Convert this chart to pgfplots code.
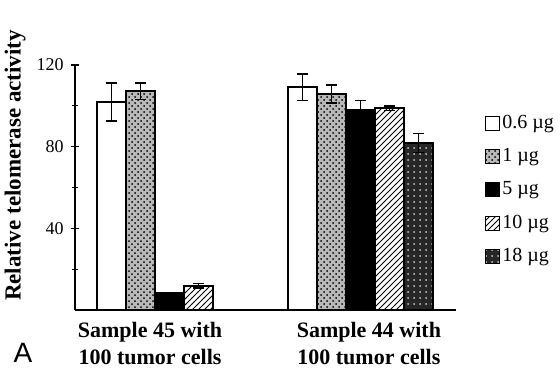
\documentclass[border=0pt]{standalone}
\usepackage{fontspec}
\setmainfont{Liberation Serif}
\newfontfamily\sansA{Liberation Sans}
\usepackage{pgfplots}
\pgfplotsset{compat=1.18}
\usetikzlibrary{patterns}
\begin{document}
\begin{tikzpicture}
\path[use as bounding box] (0,0) rectangle (280pt,185pt);
\begin{axis}[
  at={(37.5pt,30pt)}, anchor=south west,
  scale only axis, width=190.5pt, height=122.5pt,
  axis x line=bottom, axis y line=left,
  axis line style={-, line width=0.7pt},
  xmin=-0.495, xmax=1.5, ymin=0, ymax=120,
  ybar, bar width=0.152,
  xtick={-0.102,1.044},
  xticklabels={{Sample 45 with\\100 tumor cells},{Sample 44 with\\100 tumor cells}},
  xticklabel style={align=center, font=\fontsize{11}{13.5}\selectfont\bfseries, yshift=1.5pt},
  xtick style={draw=none},
  ytick={40,80,120}, minor ytick={20,60,100},
  yticklabel style={font=\fontsize{9}{10}\selectfont},
  /pgf/number format/assume math mode=true,
  tick style={black, line width=0.6pt},
  ylabel={Relative telomerase activity},
  ylabel style={at={(axis description cs:-0.157,0.59)}, anchor=center, font=\fontsize{11.5}{13}\selectfont\bfseries},
  error bars/error mark=-,
  error bars/error mark options={rotate=90, black, line width=0.6pt, mark size=2.8pt},
  error bars/error bar style={black, line width=0.6pt},
  legend style={at={(1.076,0.49)}, anchor=west, draw=none, fill=none,
    font=\fontsize{10}{12}\selectfont, row sep=6.5pt, inner sep=0pt,
    nodes={inner sep=1pt}},
  legend cell align=left,
  legend image code/.code={\draw[#1, line width=0.5pt] (0pt,-3.5pt) rectangle (7pt,3.5pt);},
  clip=false,
]
\addplot[bar shift=-0.304, draw=black, line width=0.7pt, fill=white,
  error bars/.cd, y dir=both, y explicit]
  coordinates {(0,101.9) +- (0,9.3) (1,109.2) +- (0,6.4)};
\addplot[bar shift=-0.152, draw=black, line width=0.7pt, fill=gray!55,
  postaction={pattern=crosshatch dots, pattern color=black},
  error bars/.cd, y dir=both, y explicit]
  coordinates {(0,107.2) +- (0,4) (1,105.8) +- (0,4.4)};
\addplot[bar shift=0, draw=black, line width=0.7pt, fill=black,
  error bars/.cd, y dir=both, y explicit]
  coordinates {(0,8.3) +- (0,0) (1,97.9) +- (0,4.9)};
\addplot[bar shift=0.152, draw=black, line width=0.7pt, fill=white,
  postaction={pattern=north east lines, pattern color=black},
  error bars/.cd, y dir=both, y explicit]
  coordinates {(0,11.8) +- (0,1) (1,98.9) +- (0,1)};
\addplot[bar shift=0.304, draw=black, line width=0.7pt, fill=black!85,
  postaction={pattern=dots, pattern color=white!80!black},
  error bars/.cd, y dir=both, y explicit]
  coordinates {(1,81.8) +- (0,4.5)};
\legend{0.6 µg, 1 µg, 5 µg, 10 µg, 18 µg}
\end{axis}
\node[font=\sansA\fontsize{14}{14}\selectfont] at (11.5pt,8.5pt) {A};
\end{tikzpicture}
\end{document}
